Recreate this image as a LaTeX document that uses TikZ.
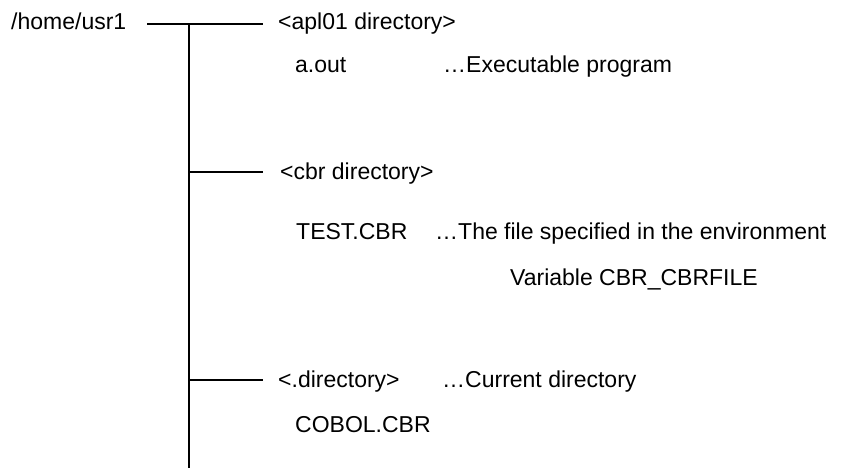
\documentclass[tikz,border=0pt]{standalone}
\usepackage{fontspec}
\setmainfont{Liberation Sans}
\begin{document}
\begin{tikzpicture}[x=1pt,y=1pt,
  lbl/.style={anchor=base west,inner sep=0pt,font=\fontsize{23}{27}\selectfont},
  trunk/.style={line width=2pt},
  branch/.style={line width=1.5pt}]
\useasboundingbox (0,0) rectangle (842,-468);
% texts
\node[lbl] (home) at (11,-30) {/home/usr1};
\node[lbl] (apl) at (278,-30) {<apl01 directory>};
\node[lbl] (aout) at (295,-73) {a.out};
\node[lbl] (exe) at (443,-73) {\dots Executable program};
\node[lbl] (cbr) at (280,-179) {<cbr directory>};
\node[lbl] (test) at (296,-239) {TEST.CBR};
\node[lbl] (file) at (435,-239) {\dots The file specified in the environment};
\node[lbl] (var) at (510,-285) {Variable CBR\_CBRFILE};
\node[lbl] (dot) at (278,-387) {<.directory>};
\node[lbl] (cur) at (442,-387) {\dots Current directory};
\node[lbl] (cobol) at (295,-432) {COBOL.CBR};
% junctions
\coordinate (h0) at (147,-24);
\coordinate (h1) at (263,-24);
\coordinate (j0) at (189,-24);
\coordinate (jend) at (189,-468);
\coordinate (jc) at (189,-172);
\coordinate (ec) at (263,-172);
\coordinate (jd) at (189,-380);
\coordinate (ed) at (263,-380);
% connectors
\draw[branch] (h0) -- (h1);
\draw[trunk] (j0) -- (jend);
\draw[branch] (jc) -- (ec);
\draw[branch] (jd) -- (ed);
\end{tikzpicture}
\end{document}
